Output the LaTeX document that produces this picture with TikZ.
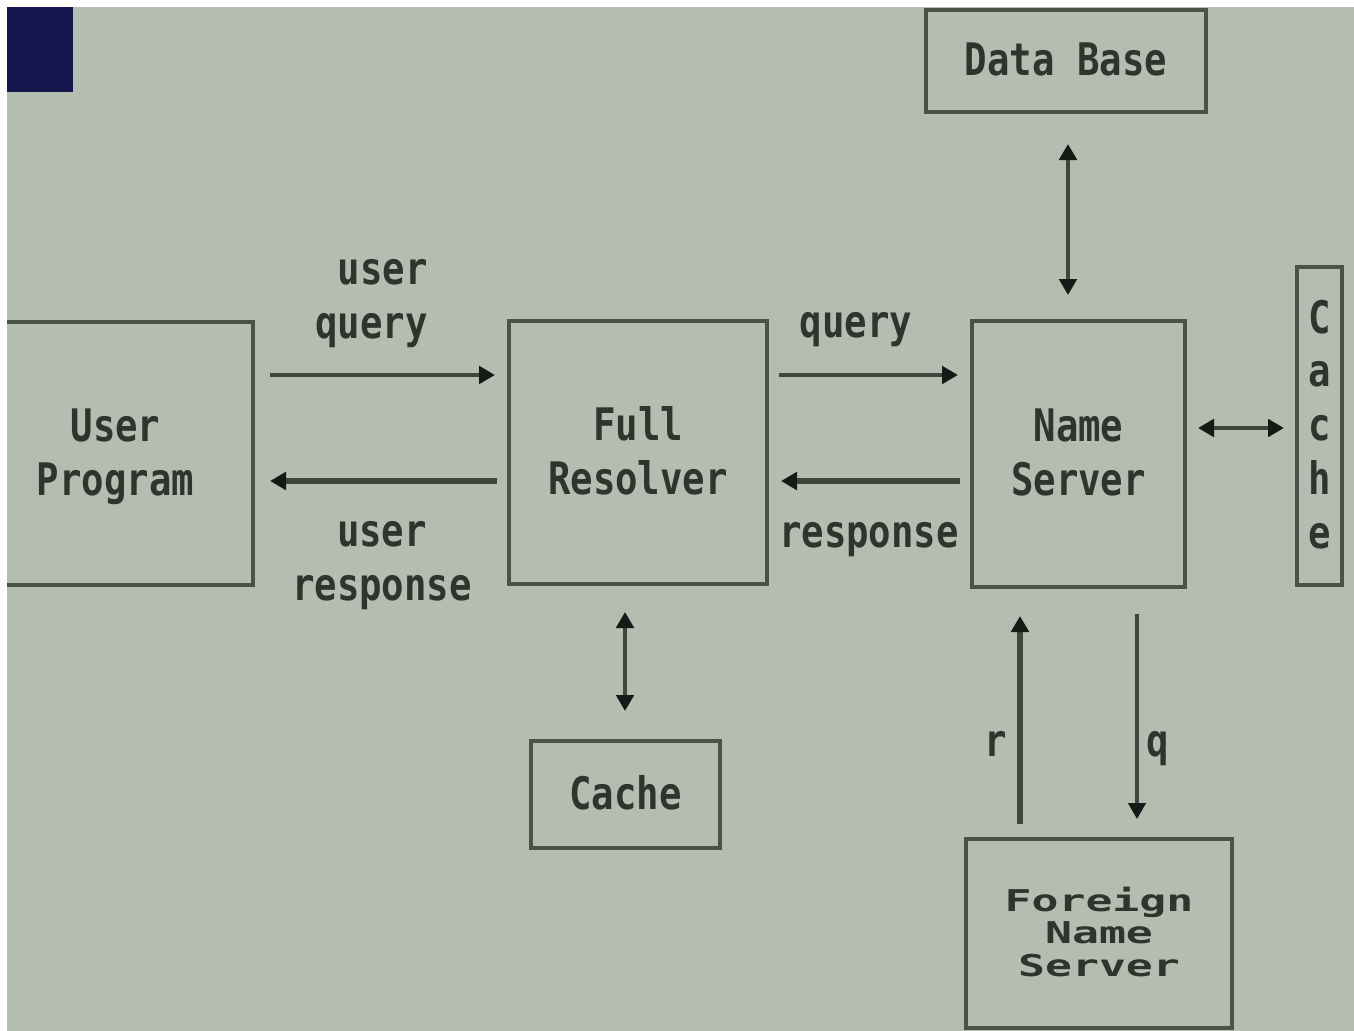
\documentclass[tikz,border=0pt]{standalone}
\usepackage{fontspec}
\setmonofont{DejaVu Sans Mono}
\usetikzlibrary{arrows.meta,calc}
\definecolor{bg}{HTML}{B5BCB0}
\definecolor{boxc}{HTML}{4A5348}
\definecolor{txt}{HTML}{2F352E}
\definecolor{arrc}{HTML}{3F463D}
\definecolor{headc}{HTML}{161A16}
\definecolor{navy}{HTML}{16164E}
\newcommand{\bt}[2][c]{\raisebox{-3pt}[\height][\depth]{\scalebox{1}[1.2]{\ttfamily\bfseries\fontsize{28}{33.6}\selectfont\begin{tabular}{@{}#1@{}}#2\end{tabular}}}}
\newcommand{\ft}[1]{\raisebox{-2.25pt}[\height][\depth]{\scalebox{1}[0.67]{\ttfamily\bfseries\fontsize{33.6}{36.4}\selectfont\begin{tabular}{@{}c@{}}#1\end{tabular}}}}
\begin{document}
\begin{tikzpicture}[x=0.75pt,y=-0.75pt,
  boxn/.style={draw=boxc, line width=3pt, line join=miter, inner sep=0pt, text=txt},
  lbl/.style={inner sep=0pt, text=txt},
  arr/.style={draw=arrc, line width=3pt, -{Triangle[length=12pt,width=13pt,color=headc]}},
  darr/.style={draw=arrc, line width=3.6pt, {Triangle[length=12pt,width=13pt,color=headc]}-{Triangle[length=12pt,width=13pt,color=headc]}}]
\useasboundingbox (0,0) rectangle (1354,1031);
\fill[white] (0,0) rectangle (1354,1031);
\fill[bg] (7,7) rectangle (1354,1031);
\begin{scope}
\clip (7,7) rectangle (1354,1031);
\fill[navy] (7,7) rectangle (73,92);
% boxes
\node[boxn, minimum width=206.25pt, minimum height=197.25pt] (up) at (115.5,453.5) {\bt{User\\Program}};
\node[boxn, minimum width=193.5pt, minimum height=197.25pt] (fr) at (638,452.5) {\bt{Full\\Resolver}};
\node[boxn, minimum width=159.75pt, minimum height=199.5pt] (ns) at (1078.5,454) {\bt{Name\\Server}};
\node[boxn, minimum width=210pt, minimum height=76.5pt] (db) at (1066,61) {\bt{Data Base}};
\node[boxn, minimum width=33.75pt, minimum height=238.5pt] (cv) at (1319.5,426) {\bt{C\\a\\c\\h\\e}};
\node[boxn, minimum width=141.75pt, minimum height=80.25pt] (cb) at (625.5,794.5) {\bt{Cache}};
\node[boxn, minimum width=199.5pt, minimum height=141.75pt] (fns) at (1099,933.5) {\ft{Foreign\\Name\\Server}};
% labels
\node[lbl, anchor=east] (uql) at (428,297) {\bt[r]{user\\query}};
\node[lbl] (url) at (382,559) {\bt{user\\response}};
\node[lbl] (ql) at (856,323) {\bt{query}};
\node[lbl] (rl) at (869,533) {\bt{response}};
\node[lbl] (rr) at (996,742) {\bt{r}};
\node[lbl] (qq) at (1158,742) {\bt{q}};
% connectors
\draw[arr] ($(up.east)+(15,-78.5)$) -- ($(fr.west)+(-12,-77.5)$);
\draw[arr, line width=4pt] ($(fr.west)+(-10,28.5)$) -- ($(up.east)+(15,27.5)$);
\draw[arr] ($(fr.east)+(10,-77.5)$) -- ($(ns.west)+(-12,-79)$);
\draw[arr, line width=4pt] ($(ns.west)+(-10,27)$) -- ($(fr.east)+(12,28.5)$);
\draw[darr] ($(db.south)+(2,30)$) -- ($(ns.north)+(-10.5,-24)$);
\draw[darr] ($(ns.east)+(11,-26)$) -- ($(cv.west)+(-11,2)$);
\draw[darr] ($(fr.south)+(-13,26)$) -- ($(cb.north)+(-0.5,-28)$);
\draw[arr, line width=3.8pt] ($(fns.north)+(-79,-13)$) -- ($(ns.south)+(-58.5,27)$);
\draw[arr, line width=2.6pt] ($(ns.south)+(58.5,25)$) -- ($(fns.north)+(38,-18)$);
\end{scope}
\end{tikzpicture}
\end{document}
